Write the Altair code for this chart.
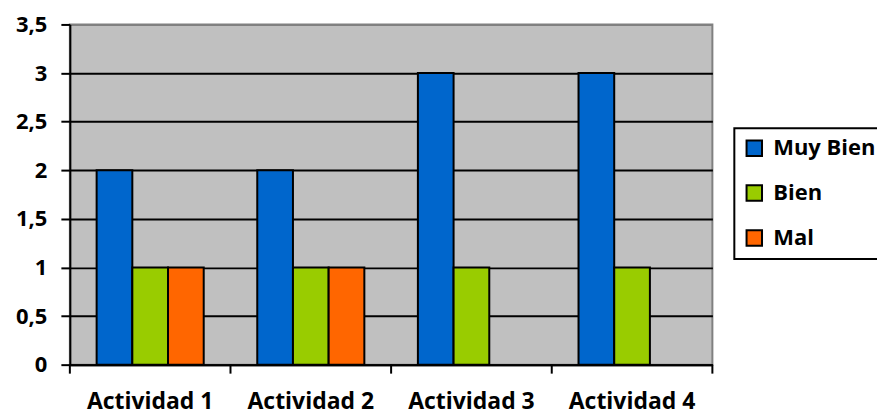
import altair as alt
import pandas as pd

categories = ["Actividad 1", "Actividad 2", "Actividad 3", "Actividad 4"]
series = ["Muy Bien", "Bien", "Mal"]
muy_bien = [2, 2, 3, 3]
bien = [1, 1, 1, 1]
mal = [1, 1, 0, 0]
colors = ["#0066CC", "#99CC00", "#FF6600"]
y_ticks = [0, 0.5, 1, 1.5, 2, 2.5, 3, 3.5]

rows = []
for s, vals in zip(series, [muy_bien, bien, mal]):
    for c, v in zip(categories, vals):
        rows.append({"cat": c, "serie": s, "v": v})
df = pd.DataFrame(rows)
cat_df = pd.DataFrame({"cat": categories})

FONT = "Open Sans"
H = 341

x_scale = alt.Scale(domain=categories, paddingInner=0, paddingOuter=0)
x_axis = alt.Axis(title=None, labelAngle=0, ticks=False, domain=True,
                  domainColor="black", domainWidth=2, labelPadding=37,
                  labelFont=FONT, labelFontSize=23, labelFontWeight="bold",
                  labelColor="black", grid=False, labelBaseline="middle")

bars = alt.Chart(df).transform_filter("datum.v > 0").mark_bar(
    stroke="black", strokeWidth=2
).encode(
    x=alt.X("cat:N", scale=x_scale, sort=categories, axis=x_axis),
    xOffset=alt.XOffset("serie:N", scale=alt.Scale(domain=series, paddingOuter=0.75, paddingInner=0)),
    y=alt.Y("v:Q", scale=alt.Scale(domain=[0, 3.5], nice=False),
            axis=alt.Axis(title=None, values=y_ticks, tickSize=9, tickColor="black", tickWidth=2,
                          domainColor="black", domainWidth=2, labelPadding=14,
                          labelFont=FONT, labelFontSize=22, labelFontWeight="bold",
                          labelColor="black",
                          labelExpr="replace(toString(datum.value), '.', ',')",
                          grid=True, gridWidth=2,
                          gridColor={"condition": {"test": "datum.value >= 3.5", "value": "#808080"}, "value": "black"})),
    color=alt.Color("serie:N", scale=alt.Scale(domain=series, range=colors),
                    legend=alt.Legend(title=None, orient="none", legendX=666, legendY=104,
                                      symbolType="square", symbolSize=240,
                                      symbolStrokeColor="black", symbolStrokeWidth=2,
                                      labelFont=FONT, labelFontSize=22, labelFontWeight="bold",
                                      labelColor="black", padding=9, rowPadding=21,
                                      strokeColor="black", fillColor="white",
                                      labelOffset=8, labelLimit=0)),
)

ticks_start = alt.Chart(cat_df).mark_rule(color="black", strokeWidth=2).encode(
    x=alt.X("cat:N", scale=x_scale, sort=categories, axis=x_axis, bandPosition=0),
    y=alt.value(H), y2=alt.value(H + 9),
)
ticks_end = alt.Chart(cat_df).transform_filter(
    alt.datum.cat == categories[-1]
).mark_rule(color="black", strokeWidth=2).encode(
    x=alt.X("cat:N", scale=x_scale, sort=categories, axis=x_axis, bandPosition=1),
    y=alt.value(H), y2=alt.value(H + 9),
)

chart = alt.layer(bars, ticks_start, ticks_end).properties(
    width=644, height=H,
    padding={"left": 62, "top": 16, "right": 165, "bottom": 55},
    autosize="none",
).configure_view(
    fill="#C0C0C0", stroke="#808080", strokeWidth=2
).configure_legend(
    strokeWidth=2
)

chart.save("out.html", embed_options={"renderer": "svg", "actions": False})
